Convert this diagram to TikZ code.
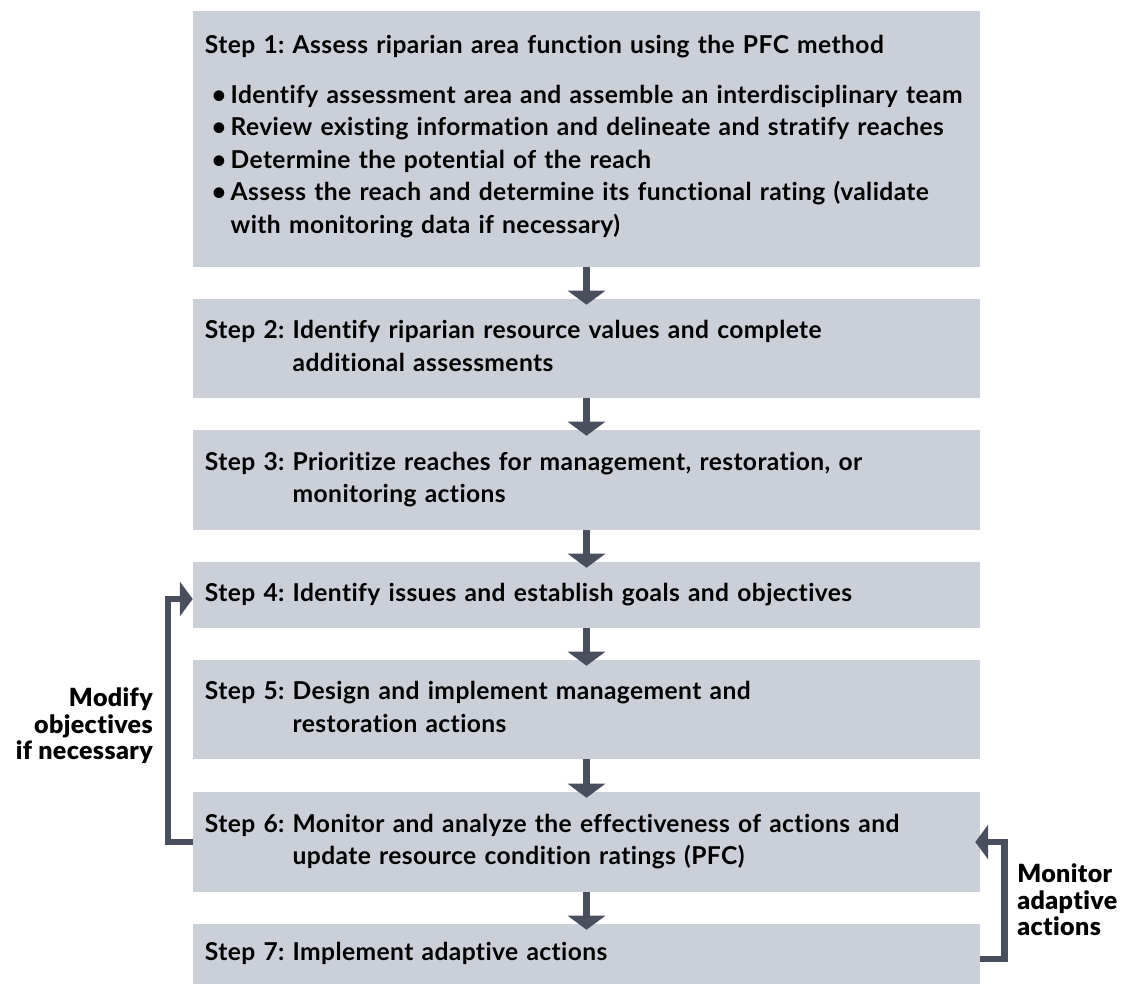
\documentclass[tikz,border=0pt]{standalone}
\usepackage{fontspec}
\setmainfont{Lato}[LetterSpace=1.6,Ligatures=NoCommon]
\newfontfamily\heavyfont{Lato Black}[LetterSpace=1.5,Ligatures=NoCommon]
\usetikzlibrary{arrows.meta,positioning}
\definecolor{stepfill}{RGB}{203,207,216}
\definecolor{steparrow}{RGB}{74,79,94}
\newcommand{\stepcell}[2]{\begin{tabular}[t]{@{}l@{\ }l@{}}Step #1: & #2\end{tabular}}
\frenchspacing

\begin{document}
\begin{tikzpicture}[x=0.25mm,y=-0.25mm,
  every node/.style={font=\bfseries\fontsize{17.5}{23.1}\selectfont},
  stepbox/.style={fill=stepfill,minimum width=196.75mm,text width=190.75mm,
    inner xsep=3mm,inner ysep=0pt,align=left},
  flow/.style={draw=steparrow,line width=1.75mm,
    -{Triangle[width=9.25mm,length=3.5mm]},shorten >=-1.5mm},
  backarrow/.style={draw=steparrow,line width=1.6mm,
    -{Triangle[width=8.5mm,length=3.2mm]}},
  sidelabel/.style={font=\heavyfont\fontsize{17.8}{18.9}\selectfont,inner sep=0pt}]
\useasboundingbox (0,0) rectangle (1127,985);
\node[stepbox,minimum height=64mm] (s1) at (586.5,139)
  {Step 1: Assess riparian area function using the PFC method\\[4.4mm]
  \begin{tabular}[t]{@{\hspace{1.75mm}}l@{\hspace{1.1mm}}l@{}}
  \textbullet & Identify assessment area and assemble an interdisciplinary team\\
  \textbullet & Review existing information and delineate and stratify reaches\\
  \textbullet & Determine the potential of the reach\\
  \textbullet & Assess the reach and determine its functional rating (validate\\
  & with monitoring data if necessary)
  \end{tabular}};
\node[stepbox,minimum height=24.75mm] (s2) at (586.5,348.5)
  {\stepcell{2}{Identify riparian resource values and complete\\ & additional assessments}};
\node[stepbox,minimum height=25mm] (s3) at (586.5,480)
  {\stepcell{3}{Prioritize reaches for management, restoration, or\\ & monitoring actions}};
\node[stepbox,minimum height=16.5mm] (s4) at (586.5,595)
  {\stepcell{4}{Identify issues and establish goals and objectives}};
\node[stepbox,minimum height=24.75mm] (s5) at (586.5,709.5)
  {\stepcell{5}{Design and implement management and\\ & restoration actions}};
\node[stepbox,minimum height=25mm] (s6) at (586.5,842)
  {\stepcell{6}{Monitor and analyze the effectiveness of actions and\\ & update resource condition ratings (PFC)}};
\node[stepbox,minimum height=15mm] (s7) at (586.5,954)
  {\stepcell{7}{Implement adaptive actions}};
\foreach \i [count=\j from 2] in {1,...,6} {\draw[flow] (s\i) -- (s\j);}
% feedback loops
\draw[backarrow] (s6.west) -- ++(-25,0) |- ([yshift=-1mm]s4.west);
\draw[backarrow,shorten >=-1.25mm] ([yshift=-1.25mm]s7.east) -- ++(24,0) |- (s6.east);
\node[sidelabel,align=right,anchor=east] (modify) at (153,726)
  {Modify\\objectives\\if necessary};
\node[sidelabel,align=left,anchor=west] (monitor) at (1017,900)
  {Monitor\\adaptive\\actions};
\end{tikzpicture}
\end{document}
